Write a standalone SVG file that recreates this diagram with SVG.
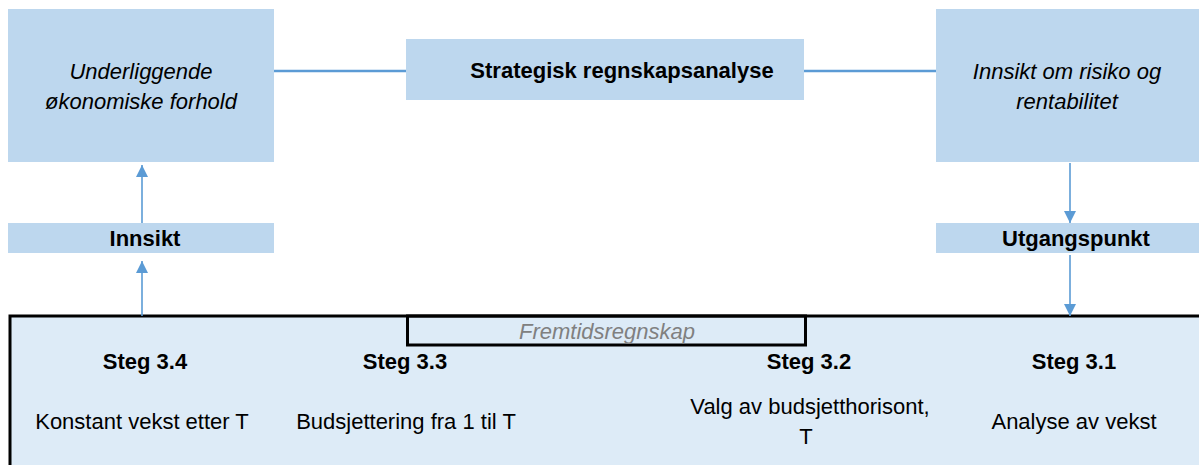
<svg xmlns="http://www.w3.org/2000/svg" width="1199" height="465" viewBox="0 0 1199 465">
<style>
text{font-family:"Liberation Sans",Arial,Helvetica,sans-serif;font-size:22px;fill:#000;text-anchor:middle}
.b{font-weight:bold}
.i{font-style:italic}
.g{fill:#808080}
.box{fill:#BDD7EE;stroke:none}
.frame{fill:#DDEBF7;stroke:#000;stroke-width:3}
.sub{fill:none;stroke:#000;stroke-width:3}
.ln{stroke:#5B9BD5;stroke-width:2.5;fill:none}
.ar{stroke:#5B9BD5;stroke-width:1.6;fill:none;marker-end:url(#ah)}
</style>
<defs>
<marker id="ah" markerUnits="userSpaceOnUse" markerWidth="12" markerHeight="12" refX="12" refY="6" orient="auto">
<path d="M0,0 L12,6 L0,12 Z" fill="#5B9BD5"/>
</marker>
</defs>
<g id="node-underliggende">
<rect class="box" x="8" y="9" width="266" height="153"/>
<text class="i" x="141" y="79">Underliggende</text>
<text class="i" x="141" y="109">økonomiske forhold</text>
</g>
<g id="node-strategisk">
<rect class="box" x="406" y="39" width="398" height="61"/>
<text class="b" x="622" y="78">Strategisk regnskapsanalyse</text>
</g>
<g id="node-innsikt-risiko">
<rect class="box" x="936" y="9" width="263" height="153"/>
<text class="i" x="1067" y="79">Innsikt om risiko og</text>
<text class="i" x="1067" y="109">rentabilitet</text>
</g>
<g id="node-innsikt">
<rect class="box" x="8" y="223" width="266" height="30"/>
<text class="b" x="145" y="246">Innsikt</text>
</g>
<g id="node-utgangspunkt">
<rect class="box" x="936" y="223" width="263" height="30"/>
<text class="b" x="1076" y="246">Utgangspunkt</text>
</g>
<g id="node-steg">
<rect class="frame" x="10" y="316" width="1200" height="160"/>
<rect class="sub" x="407.5" y="316" width="398" height="29"/>
<text class="i g" x="607" y="339">Fremtidsregnskap</text>
<text class="b" x="145" y="369">Steg 3.4</text>
<text x="142" y="429">Konstant vekst etter T</text>
<text class="b" x="405" y="369">Steg 3.3</text>
<text x="406" y="429">Budsjettering fra 1 til T</text>
<text class="b" x="809" y="369">Steg 3.2</text>
<text x="810" y="414">Valg av budsjetthorisont,</text>
<text x="806" y="444">T</text>
<text class="b" x="1074" y="369">Steg 3.1</text>
<text x="1074" y="429">Analyse av vekst</text>
</g>
<g id="connectors">
<line class="ln" x1="274" y1="71" x2="406" y2="71"/>
<line class="ln" x1="804" y1="71" x2="936" y2="71"/>
<line class="ar" x1="142" y1="223" x2="142" y2="165"/>
<line class="ar" x1="142" y1="316" x2="142" y2="261"/>
<line class="ar" x1="1070" y1="163" x2="1070" y2="223"/>
<line class="ar" x1="1070" y1="255" x2="1070" y2="316"/>
</g>
</svg>
